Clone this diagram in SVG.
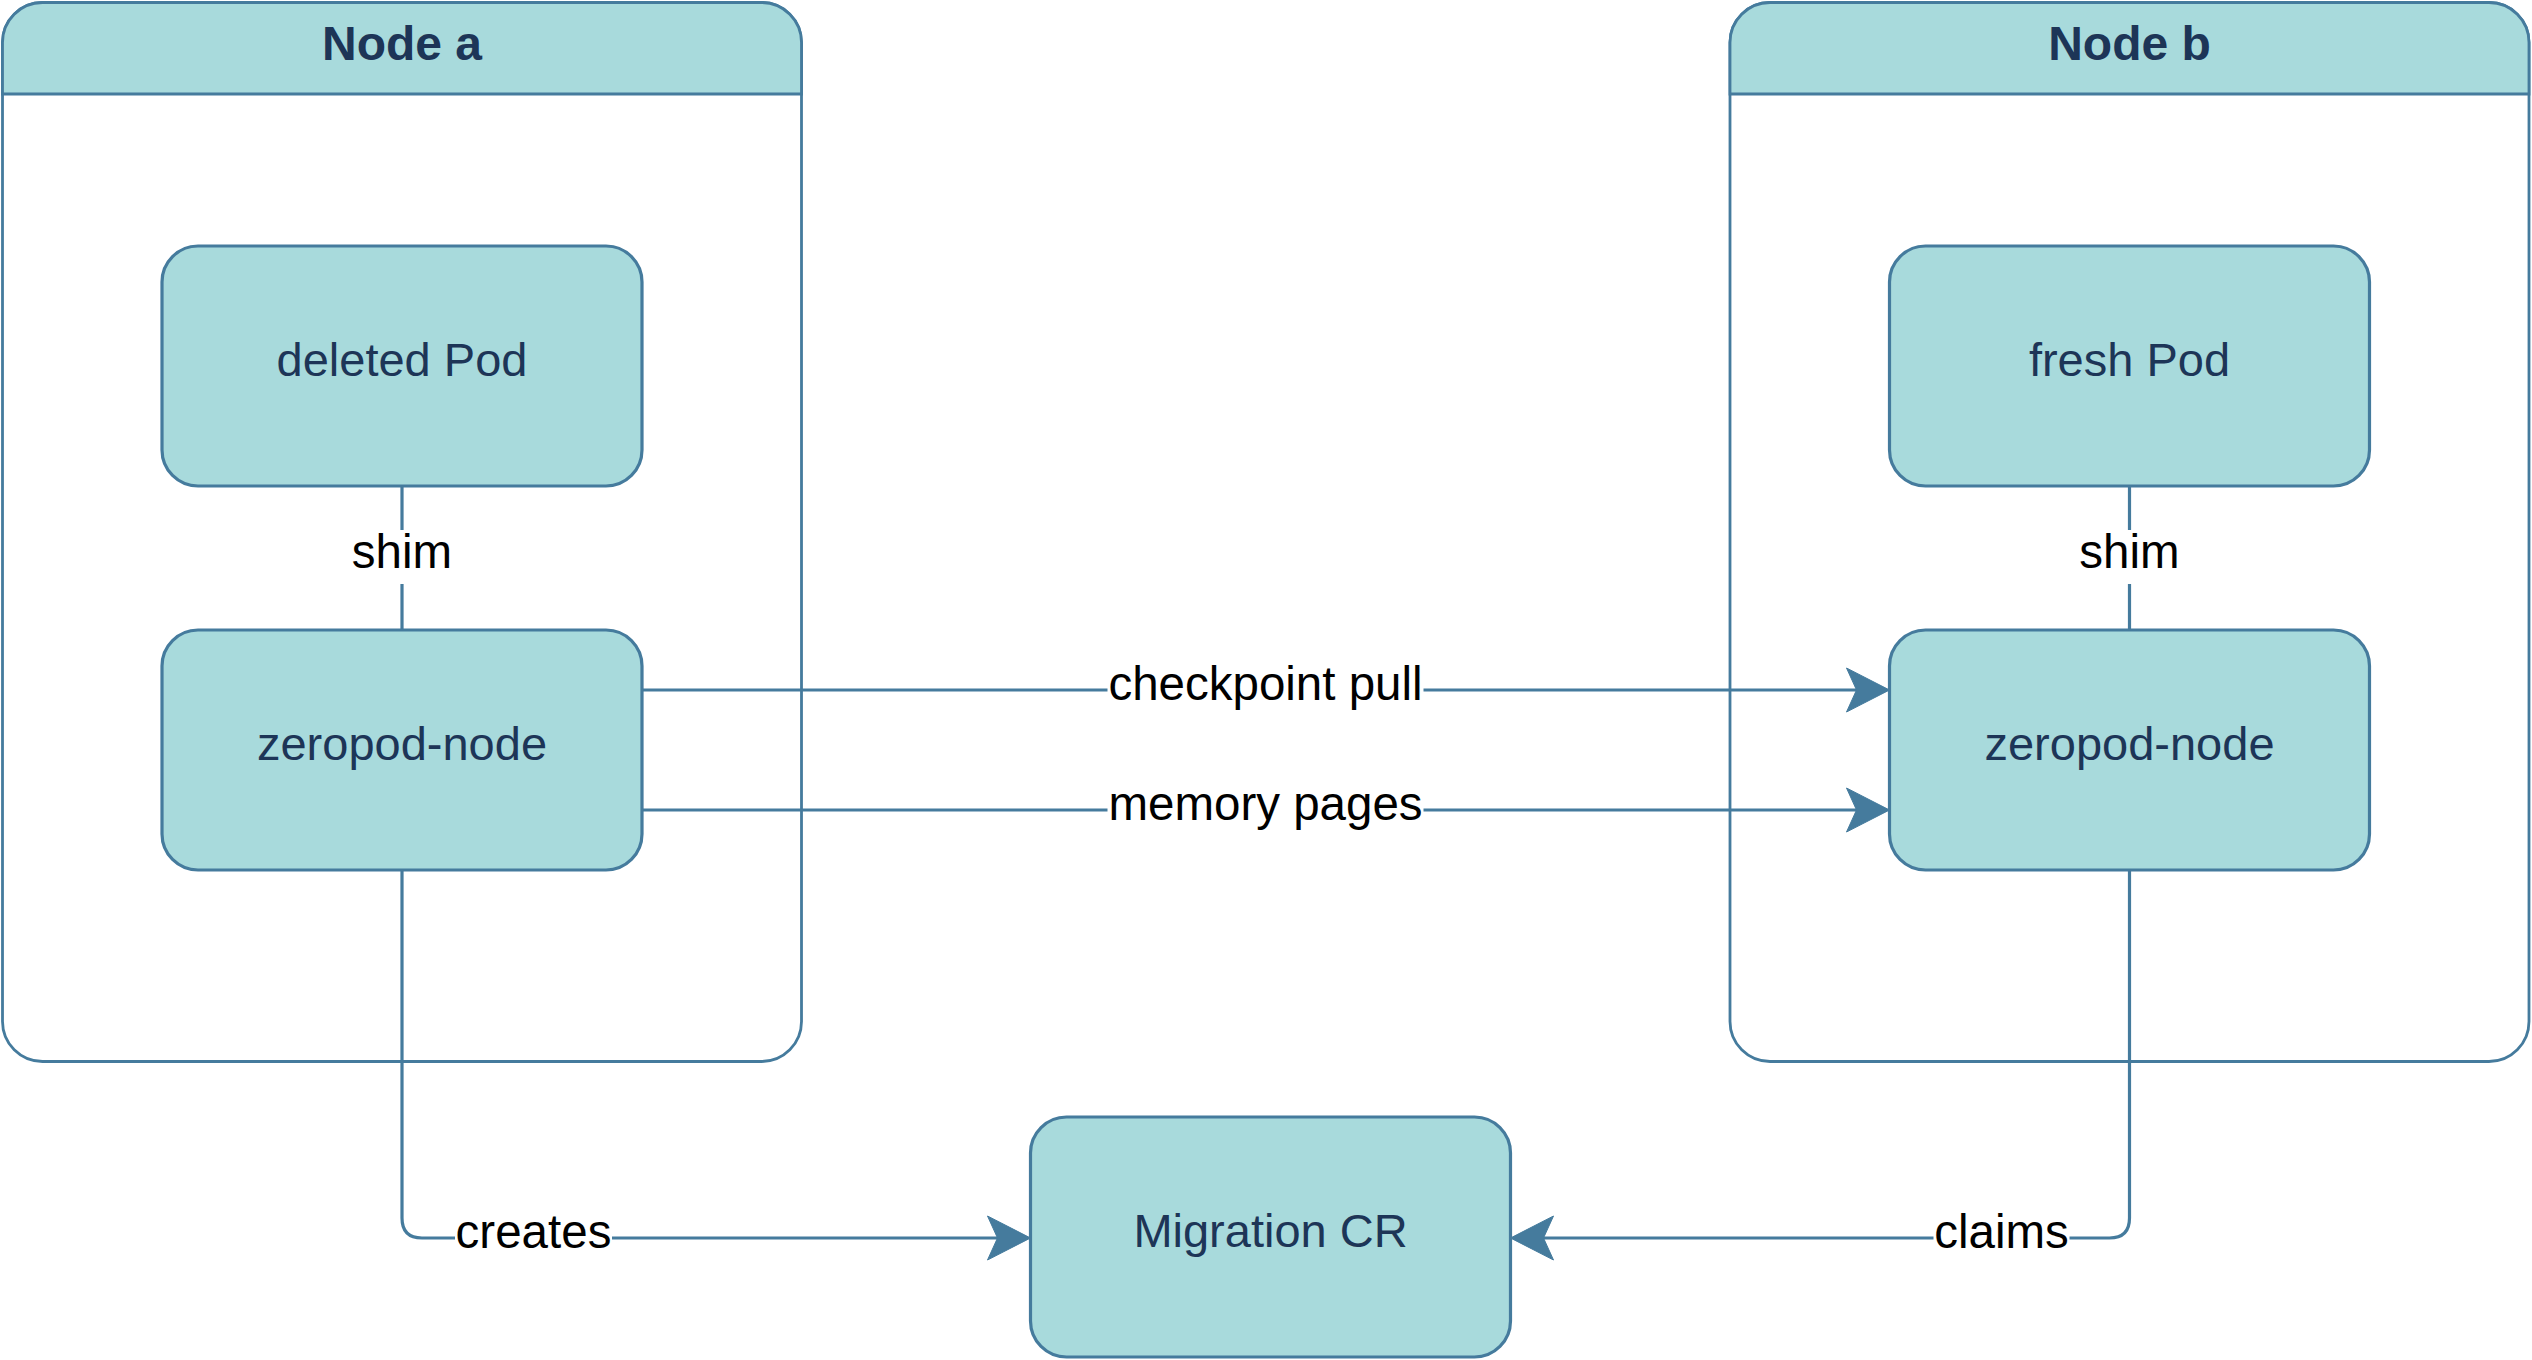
<svg xmlns="http://www.w3.org/2000/svg" width="2532" height="1360" viewBox="0 0 2532 1360">
<style>
.cont{fill:#ffffff;stroke:#457B9D;stroke-width:2.8}
.head{fill:#A8DADC;stroke:#457B9D;stroke-width:2.8}
.box{fill:#A8DADC;stroke:#457B9D;stroke-width:3.2}
.title{font-family:"Liberation Sans",Arial,sans-serif;font-size:48px;font-weight:bold;fill:#1D3557;text-anchor:middle}
.ntext{font-family:"Liberation Sans",Arial,sans-serif;font-size:47px;fill:#1D3557;text-anchor:middle}
.edge{fill:none;stroke:#457B9D;stroke-width:3.2}
.arrow{marker-end:url(#arr)}
.lbg{fill:#ffffff}
.ltext{font-family:"Liberation Sans",Arial,sans-serif;font-size:47.5px;fill:#000000;text-anchor:middle}
</style>
<defs>
<marker id="arr" markerUnits="userSpaceOnUse" viewBox="-45 -24 48 48" markerWidth="48" markerHeight="48" refX="-30" refY="0" orient="auto">
<path d="M0,0 L-43,-22 L-33,0 L-43,22 Z" fill="#457B9D" stroke="#457B9D" stroke-width="1"/>
</marker>
</defs>
<rect width="2532" height="1360" fill="#ffffff"/>

<g id="node-a">
<rect class="cont" x="2.5" y="2.5" width="799" height="1059" rx="40" ry="40"/>
<path class="head" d="M2.5,94 L2.5,42.5 A40,40 0 0 1 42.5,2.5 L761.5,2.5 A40,40 0 0 1 801.5,42.5 L801.5,94 Z"/>
<text class="title" x="402" y="60">Node a</text>
</g>

<g id="node-b">
<rect class="cont" x="1730" y="2.5" width="799" height="1059" rx="40" ry="40"/>
<path class="head" d="M1730,94 L1730,42.5 A40,40 0 0 1 1770,2.5 L2489,2.5 A40,40 0 0 1 2529,42.5 L2529,94 Z"/>
<text class="title" x="2129.5" y="60">Node b</text>
</g>

<g id="connectors">
<path class="edge" d="M402,486 L402,630"/>
<rect class="lbg" x="351" y="530" width="102" height="54"/>
<text class="ltext" x="402" y="568">shim</text>

<path class="edge" d="M2129.5,486 L2129.5,630"/>
<rect class="lbg" x="2078.5" y="530" width="102" height="54"/>
<text class="ltext" x="2129.5" y="568">shim</text>

<path class="edge arrow" d="M642,690 L1859.5,690"/>
<rect class="lbg" x="1107.5" y="662" width="316" height="56"/>
<text class="ltext" x="1265.5" y="700">checkpoint pull</text>

<path class="edge arrow" d="M642,810 L1859.5,810"/>
<rect class="lbg" x="1107.5" y="782" width="316" height="56"/>
<text class="ltext" x="1265.5" y="820">memory pages</text>

<path class="edge arrow" d="M402,870 L402,1218 Q402,1238 422,1238 L1000.5,1238"/>
<rect class="lbg" x="455" y="1210" width="157" height="56"/>
<text class="ltext" x="533.5" y="1248">creates</text>

<path class="edge arrow" d="M2129.5,870 L2129.5,1218 Q2129.5,1238 2109.5,1238 L1540.5,1238"/>
<rect class="lbg" x="1933.5" y="1210" width="136" height="56"/>
<text class="ltext" x="2001.5" y="1248">claims</text>
</g>

<g id="deleted-pod">
<rect class="box" x="162" y="246" width="480" height="240" rx="36" ry="36"/>
<text class="ntext" x="402" y="376">deleted Pod</text>
</g>

<g id="zeropod-node-a">
<rect class="box" x="162" y="630" width="480" height="240" rx="36" ry="36"/>
<text class="ntext" x="402" y="760">zeropod-node</text>
</g>

<g id="fresh-pod">
<rect class="box" x="1889.5" y="246" width="480" height="240" rx="36" ry="36"/>
<text class="ntext" x="2129.5" y="376">fresh Pod</text>
</g>

<g id="zeropod-node-b">
<rect class="box" x="1889.5" y="630" width="480" height="240" rx="36" ry="36"/>
<text class="ntext" x="2129.5" y="760">zeropod-node</text>
</g>

<g id="migration-cr">
<rect class="box" x="1030.5" y="1117" width="480" height="240" rx="36" ry="36"/>
<text class="ntext" x="1270.5" y="1247">Migration CR</text>
</g>
</svg>
